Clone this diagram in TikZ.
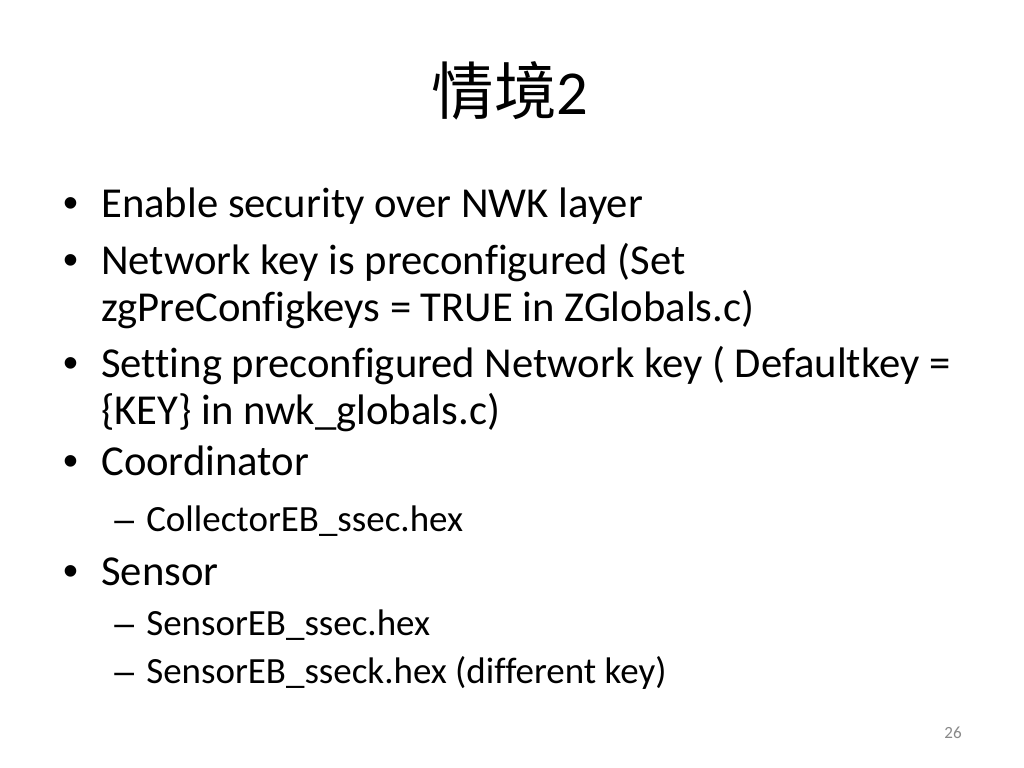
\documentclass[tikz,border=0pt]{standalone}
\usepackage{fontspec}
\setmainfont{Carlito}[Ligatures=NoCommon]
\newfontfamily\cjk{Noto Sans CJK TC}
\newfontfamily\arialf{Liberation Sans}
\begin{document}
\begin{tikzpicture}[x=0.703125pt,y=-0.703125pt,
  txt/.style={inner sep=0pt,anchor=base west,font=\fontsize{30}{36}\selectfont},
  subtxt/.style={inner sep=0pt,anchor=base west,font=\fontsize{26}{31}\selectfont},
  bul/.style={inner sep=0pt,anchor=base,font=\arialf\fontsize{30}{36}\selectfont},
  dsh/.style={inner sep=0pt,anchor=base west,font=\arialf\fontsize{25}{30}\selectfont}]
\useasboundingbox[fill=white] (0,0) rectangle (1024,768);
\node[inner sep=0pt,anchor=base,font=\fontsize{44}{53}\selectfont] (title) at (510,115) {{\cjk 情境}2};
% bullets
\node[bul] (b1) at (71,218) {•};
\node[txt] (t1) at (101,218) {Enable security over NWK layer};
\node[bul] (b2) at (71,275) {•};
\node[txt] (t2) at (101,275) {Network key is preconfigured (Set};
\node[txt] (t2b) at (101,322) {zgPreConfigkeys = TRUE in ZGlobals.c)};
\node[bul] (b3) at (71,377) {•};
\node[txt] (t3) at (101,377) {Setting preconfigured Network key ( Defaultkey =};
\node[txt] (t3b) at (101,424) {\{KEY\} in nwk\_globals.c)};
\node[bul] (b4) at (71,475) {•};
\node[txt] (t4) at (101,475) {Coordinator};
\node[dsh] (d1) at (114,531) {–};
\node[subtxt] (s1) at (146,531) {CollectorEB\_ssec.hex};
\node[bul] (b5) at (71,585) {•};
\node[txt] (t5) at (101,585) {Sensor};
\node[dsh] (d2) at (114,635) {–};
\node[subtxt] (s2) at (146,635) {SensorEB\_ssec.hex};
\node[dsh] (d3) at (114,683) {–};
\node[subtxt] (s3) at (146,683) {SensorEB\_sseck.hex (different key)};
\node[inner sep=0pt,anchor=base east,font=\fontsize{12}{14}\selectfont,text={rgb,255:red,137;green,137;blue,137}] (pg) at (962,738) {26};
\end{tikzpicture}
\end{document}
